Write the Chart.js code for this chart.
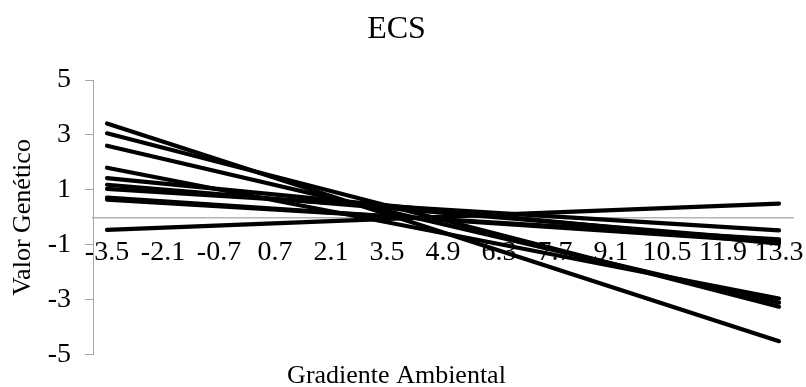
<!DOCTYPE html>
<html>
<head>
<meta charset="utf-8">
<script src="https://cdn.jsdelivr.net/npm/chart.js@4/dist/chart.umd.min.js"></script>
<style>
  html, body { margin: 0; padding: 0; background: #ffffff; }
  #wrap { width: 806px; height: 387px; }
</style>
</head>
<body>
<div id="wrap"><canvas id="c" width="806" height="387"></canvas></div>
<script>
// Environmental gradient categories (x axis)
const categories = [-3.5, -2.1, -0.7, 0.7, 2.1, 3.5, 4.9, 6.3, 7.7, 9.1, 10.5, 11.9, 13.3];
const categoryLabels = ['-3.5', '-2.1', '-0.7', '0.7', '2.1', '3.5', '4.9', '6.3', '7.7', '9.1', '10.5', '11.9', '13.3'];
const yTickValues = [-5, -3, -1, 1, 3, 5];

// Reaction norms (genetic values) read at the ends of the gradient; straight lines between
const s1  = [3.42, null, null, null, null, null, null, null, null, null, null, null, -4.50];
const s2  = [3.06, null, null, null, null, null, null, null, null, null, null, null, -3.25];
const s3  = [2.61, null, null, null, null, null, null, null, null, null, null, null, -3.10];
const s4  = [1.81, null, null, null, null, null, null, null, null, null, null, null, -2.95];
const s5  = [1.43, null, null, null, null, null, null, null, null, null, null, null, -0.95];
const s6  = [1.19, null, null, null, null, null, null, null, null, null, null, null, -0.85];
const s7  = [1.04, null, null, null, null, null, null, null, null, null, null, null, -0.47];
const s8  = [0.72, null, null, null, null, null, null, null, null, null, null, null, -0.90];
const s9  = [0.65, null, null, null, null, null, null, null, null, null, null, null, -0.80];
const s10 = [-0.45, null, null, null, null, null, null, null, null, null, null, null, 0.50];

const seriesList = [s1, s2, s3, s4, s5, s6, s7, s8, s9, s10];

const FONT = "'Liberation Serif', 'Times New Roman', serif";
const AXIS_GRAY = '#a6a6a6';

const datasets = seriesList.map((s, i) => ({
  label: 'Série ' + (i + 1),
  data: s,
  borderColor: '#000000',
  backgroundColor: '#000000',
  borderWidth: 4.2,
  borderCapStyle: 'round',
  pointRadius: 0,
  pointHoverRadius: 0,
  spanGaps: true,
  tension: 0,
  fill: false
}));

const step = categories[1] - categories[0];

new Chart(document.getElementById('c'), {
  type: 'line',
  data: { labels: categories, datasets: datasets },
  options: {
    responsive: false,
    animation: false,
    events: [],
    layout: { padding: { left: 0, right: 13, top: 0, bottom: 0 } },
    plugins: {
      legend: { display: false },
      tooltip: { enabled: false },
      title: {
        display: true,
        text: 'ECS',
        color: '#000000',
        font: { family: FONT, size: 32, weight: 'normal', lineHeight: 1.2 },
        padding: { top: 10, bottom: 31.6 }
      },
      subtitle: {
        display: true,
        position: 'bottom',
        text: 'Gradiente Ambiental',
        color: '#000000',
        font: { family: FONT, size: 26, weight: 'normal', lineHeight: 0.85 },
        padding: { top: 10, bottom: 0 }
      }
    },
    scales: {
      x: {
        type: 'linear',
        position: { y: 0 },
        min: categories[0] - step / 4,
        max: categories[categories.length - 1] + step / 4,
        afterBuildTicks: (scale) => { scale.ticks = categories.map(v => ({ value: v })); },
        afterFit: (scale) => { scale.paddingLeft = 0; scale.paddingRight = 0; },
        ticks: {
          autoSkip: false,
          maxRotation: 0,
          minRotation: 0,
          padding: 18,
          color: '#000000',
          font: { family: FONT, size: 28 },
          callback: (value) => {
            const idx = categories.findIndex(c => Math.abs(c - value) < 1e-6);
            return idx >= 0 ? categoryLabels[idx] : '';
          }
        },
        grid: { display: true, drawOnChartArea: false, drawTicks: false },
        border: { display: true, color: '#b4b4b4', width: 1.5 }
      },
      y: {
        type: 'linear',
        position: 'left',
        min: -5,
        max: 5,
        afterBuildTicks: (scale) => { scale.ticks = yTickValues.map(v => ({ value: v })); },
        afterFit: (scale) => { scale.width = 93; },
        ticks: {
          padding: 14,
          color: '#000000',
          font: { family: FONT, size: 28 }
        },
        grid: {
          display: true,
          drawOnChartArea: false,
          drawTicks: true,
          tickLength: 8,
          color: AXIS_GRAY,
          lineWidth: 1
        },
        border: { display: true, color: AXIS_GRAY, width: 1 },
        title: {
          display: true,
          text: 'Valor Genético',
          color: '#000000',
          font: { family: FONT, size: 26, weight: 'normal', lineHeight: 1.2 },
          padding: { top: 8, bottom: 0 }
        }
      }
    }
  }
});
</script>
</body>
</html>
